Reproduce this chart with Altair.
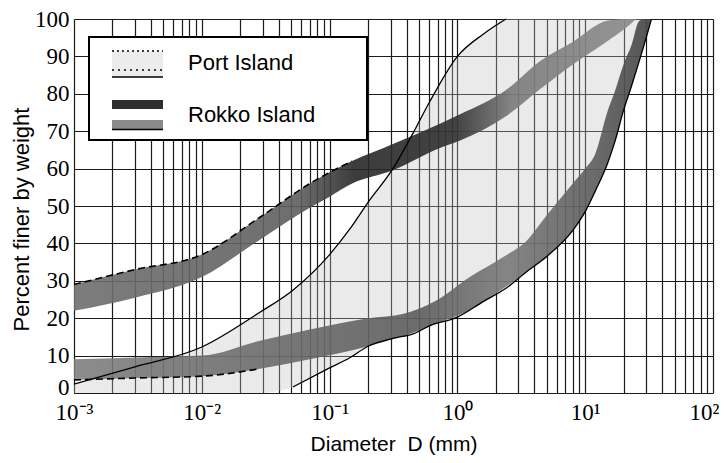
import json
import altair as alt
import pandas as pd

# ---------------- data ----------------
# Port Island gradation range (upper and lower boundary curves), D in mm, P in %
PORT_D = [0.001, 0.003, 0.01, 0.0285, 0.0516, 0.1, 0.145, 0.2, 0.313, 0.45, 0.61,
          1.0, 1.6, 2.4, 3.5, 5.0, 8.0, 10.0, 12.0, 15.0, 17.0, 20.0, 23.0, 26.5, 30.0, 33.0]
PORT_UPPER = [2.4, 7.0, 12.3, 21.6, 27.5, 37.0, 44.0, 51.0, 60.0, 69.5, 78.0,
              90.0, 96.0, 100, 100, 100, 100, 100, 100, 100, 100, 100, 100, 100, 100, 100]
PORT_LOWER = [0, 0, 0, 0, 1.6, 6.7, 9.5, 12.5, 14.6, 15.8, 18.0,
              20.3, 24.5, 28.0, 32.5, 36.5, 43.5, 48.5, 54.0, 61.5, 67.0, 75.7, 82.0, 88.8, 95.0, 100]

# Rokko Island - upper boundary band
RUP_D = [0.001, 0.003, 0.01, 0.0285, 0.07, 0.1, 0.15, 0.31, 0.73, 1.05, 2.4, 4.45, 8.1, 14.8, 21.0, 25.0]
RUP_TOP = [29.0, 33.0, 37.0, 47.0, 56.0, 59.0, 62.0, 66.5, 72.0, 74.5, 81.0, 88.8, 94.0, 99.5, 100, 100]
RUP_BOT = [22.0, 25.5, 31.0, 41.0, 49.5, 52.5, 56.0, 59.5, 65.5, 67.5, 74.0, 81.3, 88.0, 94.0, 97.7, 100]

# Rokko Island - lower boundary band
RLO_D = [0.001, 0.003, 0.01, 0.0285, 0.07, 0.2, 0.38, 0.69, 1.25, 2.3, 3.5, 5.0, 8.0,
         10.0, 12.0, 15.0, 17.0, 20.0, 23.0, 26.5, 30.0, 33.0]
RLO_TOP = [9.0, 9.5, 10.0, 14.0, 17.0, 20.0, 21.2, 24.8, 31.0, 36.4, 40.8, 47.5, 56.0,
           60.0, 64.0, 75.5, 80.5, 88.0, 93.0, 99.5, 100, 100]
RLO_BOT = [3.5, 4.0, 4.5, 6.5, 9.0, 12.5, 15.3, 18.6, 22.1, 28.0, 32.5, 36.5, 43.5,
           48.5, 54.0, 61.5, 67.0, 75.7, 82.0, 88.8, 95.0, 100]

X_LABELS = ["10⁻³", "10⁻²", "10⁻¹", "10⁰", "10¹", "10²"]
Y_TICKS = [0, 10, 20, 30, 40, 50, 60, 70, 80, 90, 100]
LEGEND_LABELS = ["Port Island", "Rokko Island"]

# ---------------- tables ----------------
port = pd.DataFrame({"D": PORT_D, "hi": PORT_UPPER, "lo": PORT_LOWER})
rup = pd.DataFrame({"D": RUP_D, "top": RUP_TOP, "bot": RUP_BOT})
rlo = pd.DataFrame({"D": RLO_D, "top": RLO_TOP, "bot": RLO_BOT})

grid_vals = [round(m * 10 ** k, 6) for k in range(-3, 2) for m in range(1, 10)] + [100]

SANS = "Liberation Sans"
SERIF = "Liberation Serif"

xscale = alt.Scale(type="log", domain=[0.001, 100], nice=False)
yscale = alt.Scale(domain=[0, 100], nice=False, zero=True)

lg = "log(datum.value)/LN10"
label_expr = (f"abs({lg} - round({lg})) < 0.01 ? "
              + json.dumps(X_LABELS, ensure_ascii=False)
              + f"[round({lg}) + 3] : ''")

xaxis = alt.Axis(
    values=grid_vals, labelExpr=label_expr, grid=True, gridColor="#1a1a1a",
    gridWidth=1.2, ticks=False, domain=False, labelFont=SERIF, labelFontSize=23,
    labelColor="black", labelPadding=8, labelFlush=False, labelOverlap=False,
    labelAlign={"condition": {"test": "datum.value >= 100", "value": "right"}, "value": "center"},
    labelOffset={"condition": {"test": "datum.value >= 100", "value": 6}, "value": 0},
    title="Diameter\u00a0\u00a0D (mm)", titleFont=SANS, titleFontSize=21,
    titleFontWeight="normal", titleColor="black", titleY=51, titleBaseline="middle")
yaxis = alt.Axis(
    values=Y_TICKS, grid=True, gridColor="#1a1a1a", gridWidth=1.2, ticks=False,
    domain=False, labelFont=SERIF, labelFontSize=23, labelColor="black",
    labelPadding=5, labelFlush=False,
    labelOffset={"condition": {"test": "datum.value == 0", "value": -6}, "value": 0},
    title="Percent finer by weight", titleFont=SANS, titleFontSize=22,
    titleFontWeight="normal", titleColor="black", titleX=-53, titleY=200,
    titleAlign="center", titleBaseline="middle")

X = alt.X("D:Q", scale=xscale, axis=xaxis)


def Y(field):
    return alt.Y(f"{field}:Q", scale=yscale, axis=yaxis)


grad_up = alt.LinearGradient(gradient="linear", x1=0, x2=1, y1=0, y2=0, stops=[
    alt.GradientStop(color="#6e6e6e", offset=0),
    alt.GradientStop(color="#5e5e5e", offset=0.4),
    alt.GradientStop(color="#262626", offset=0.5),
    alt.GradientStop(color="#303030", offset=0.68),
    alt.GradientStop(color="#7a7a7a", offset=0.78),
    alt.GradientStop(color="#8a8a8a", offset=1)])
grad_lo = alt.LinearGradient(gradient="linear", x1=0, x2=1, y1=0, y2=0, stops=[
    alt.GradientStop(color="#7c7c7c", offset=0),
    alt.GradientStop(color="#686868", offset=0.35),
    alt.GradientStop(color="#5a5a5a", offset=0.6),
    alt.GradientStop(color="#777777", offset=0.75),
    alt.GradientStop(color="#5a5a5a", offset=0.9),
    alt.GradientStop(color="#404040", offset=1)])

port_area = alt.Chart(port).mark_area(color="#c4c4c4", opacity=0.35, interpolate="monotone").encode(
    x=X, y=Y("hi"), y2="lo:Q")
rlo_area = alt.Chart(rlo).mark_area(color=grad_lo, opacity=0.88, interpolate="monotone").encode(
    x=X, y=Y("top"), y2="bot:Q")
rup_area = alt.Chart(rup).mark_area(color=grad_up, opacity=0.9, interpolate="monotone").encode(
    x=X, y=Y("top"), y2="bot:Q")

port_up_line = alt.Chart(port).transform_filter("datum.D <= 2.4").mark_line(
    color="black", strokeWidth=1.3, interpolate="monotone").encode(x=X, y=Y("hi"))
port_lo_line = alt.Chart(port).transform_filter("datum.D >= 0.0516").mark_line(
    color="black", strokeWidth=1.3, interpolate="monotone").encode(x=X, y=Y("lo"))

rup_dash = alt.Chart(rup).transform_filter("datum.D <= 0.15").mark_line(
    color="black", strokeWidth=1.6, strokeDash=[7, 4], interpolate="monotone").encode(x=X, y=Y("top"))
rlo_dash = alt.Chart(rlo).transform_filter("datum.D <= 0.03").mark_line(
    color="black", strokeWidth=1.6, strokeDash=[7, 4], interpolate="monotone").encode(x=X, y=Y("bot"))

# ---------------- legend (drawn box) ----------------
one = alt.Data(values=[{"k": 1}])
leg_box = alt.Chart(one).mark_rect(fill="white", stroke="black", strokeWidth=2).encode(
    x=alt.value(15), x2=alt.value(293), y=alt.value(18), y2=alt.value(121))
port_sw = alt.Chart(one).mark_rect(fill="#ececec").encode(
    x=alt.value(38), x2=alt.value(89), y=alt.value(32), y2=alt.value(58))
port_sw_top = alt.Chart(one).mark_rule(color="black", strokeWidth=1.6, strokeDash=[2, 3]).encode(
    x=alt.value(38), x2=alt.value(89), y=alt.value(32))
port_sw_mid = alt.Chart(one).mark_rule(color="black", strokeWidth=1.6, strokeDash=[2, 4]).encode(
    x=alt.value(38), x2=alt.value(89), y=alt.value(51))
port_sw_bot = alt.Chart(one).mark_rule(color="black", strokeWidth=1.5).encode(
    x=alt.value(38), x2=alt.value(89), y=alt.value(58))
rok_sw1 = alt.Chart(one).mark_rect(fill="#2e2e2e").encode(
    x=alt.value(38), x2=alt.value(89), y=alt.value(81), y2=alt.value(90))
rok_sw2 = alt.Chart(one).mark_rect(fill="#8a8a8a").encode(
    x=alt.value(38), x2=alt.value(89), y=alt.value(101), y2=alt.value(110))
rok_sw2b = alt.Chart(one).mark_rule(color="black", strokeWidth=1.5).encode(
    x=alt.value(38), x2=alt.value(89), y=alt.value(110.5))
txt_port = alt.Chart(one).mark_text(align="left", baseline="middle", font=SANS, fontSize=22,
                                    color="black").encode(
    x=alt.value(114), y=alt.value(44), text=alt.value(LEGEND_LABELS[0]))
txt_rok = alt.Chart(one).mark_text(align="left", baseline="middle", font=SANS, fontSize=22,
                                   color="black").encode(
    x=alt.value(114), y=alt.value(96), text=alt.value(LEGEND_LABELS[1]))

chart = alt.layer(
    port_area, rlo_area, rup_area, port_up_line, port_lo_line, rup_dash, rlo_dash,
    leg_box, port_sw, port_sw_top, port_sw_mid, port_sw_bot, rok_sw1, rok_sw2, rok_sw2b,
    txt_port, txt_rok
).properties(
    width=639, height=374,
    autosize=alt.AutoSizeParams(type="none"),
    padding={"left": 66, "top": 11, "right": 6, "bottom": 62},
).configure_view(stroke="black", strokeWidth=2).configure(background="white")

chart.save("out.html", embed_options={"renderer": "svg", "actions": False})
